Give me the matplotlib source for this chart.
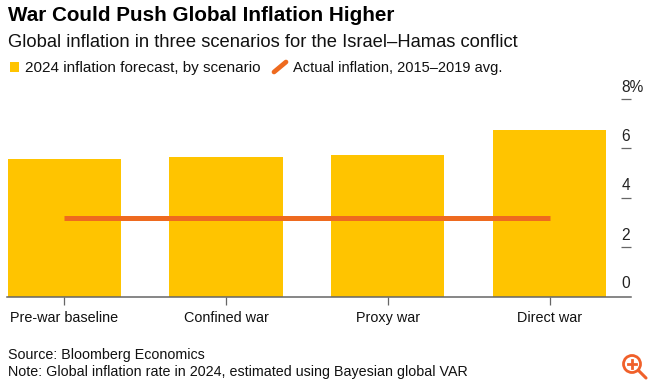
import matplotlib
matplotlib.use("Agg")
import matplotlib.pyplot as plt
from matplotlib.lines import Line2D
from matplotlib.patches import Rectangle, Circle

categories = ["Pre-war baseline", "Confined war", "Proxy war", "Direct war"]
forecast = [5.55, 5.64, 5.72, 6.73]
actual_avg = [3.2, 3.2, 3.2, 3.2]
y_ticks = [0, 2, 4, 6, 8]
y_labels = ["0", "2", "4", "6", "8%"]

title = "War Could Push Global Inflation Higher"
subtitle = "Global inflation in three scenarios for the Israel\u2013Hamas conflict"
legend_bar = "2024 inflation forecast, by scenario"
legend_line = "Actual inflation, 2015\u20132019 avg."
source = "Source: Bloomberg Economics"
note = "Note: Global inflation rate in 2024, estimated using Bayesian global VAR"

W, H = 650, 383
plt.rcParams["font.family"] = ["Liberation Sans", "DejaVu Sans"]
fig = plt.figure(figsize=(W / 100, H / 100), dpi=100)

def fx(p): return p / W
def fy(p): return 1 - p / H

x0, x1, y_top, y_base = 7.5, 630.5, 99.0, 296.5
ax = fig.add_axes([fx(x0), fy(y_base), (x1 - x0) / W, (y_base - y_top) / H])
ax.set_xlim(-0.35, 3.5)
ax.set_ylim(0, 8)
ax.patch.set_alpha(0)

xs = list(range(len(categories)))
ax.bar(xs, forecast, width=0.7, color="#FFC400", zorder=2)
ax.plot(xs, actual_avg, color="#EE6A1F", lw=3.6, solid_capstyle="butt", zorder=3)

for s in ("top", "left", "right"):
    ax.spines[s].set_visible(False)
ax.spines["bottom"].set_color("#666666")
ax.spines["bottom"].set_linewidth(1.1)
ax.spines["bottom"].set_zorder(4)

ax.set_xticks(xs)
ax.set_xticklabels(categories, fontsize=10.4, color="#111111")
ax.tick_params(axis="x", length=6, width=0.9, color="#666666", pad=4.5)

ax.yaxis.tick_right()
ax.set_yticks(y_ticks[1:])
ax.set_yticklabels([])
ax.tick_params(axis="y", direction="in", length=7.2, width=0.9, color="#666666")
for v, lab in zip(y_ticks, y_labels):
    ax.annotate(lab, xy=(1, v), xycoords=("axes fraction", "data"),
                xytext=(-6.6, 3.2 if v else 3.6), textcoords="offset points",
                ha="left", va="bottom", fontsize=11.2, color="#222222")

fig.text(fx(8), fy(21), title, fontsize=14.9, fontweight="bold", color="#000000",
         ha="left", va="baseline")
fig.text(fx(8), fy(47), subtitle, fontsize=13.2, color="#111111", ha="left", va="baseline")
fig.text(fx(25), fy(72), legend_bar, fontsize=11.0, color="#111111", ha="left", va="baseline")
fig.text(fx(293), fy(72), legend_line, fontsize=10.55, color="#111111", ha="left", va="baseline")
fig.text(fx(8), fy(359), source, fontsize=10.3, color="#111111", ha="left", va="baseline")
fig.text(fx(8), fy(376), note, fontsize=10.3, color="#111111", ha="left", va="baseline")

fig.add_artist(Rectangle((fx(10), fy(72)), 9 / W, 10 / H, transform=fig.transFigure,
                         color="#FFC400", lw=0))
fig.add_artist(Line2D([fx(274), fx(286)], [fy(72), fy(62)], transform=fig.transFigure,
                      color="#EE6A1F", lw=3.4, solid_capstyle="round"))

# magnifier badge, bottom right
orange = "#F0602A"
fig.add_artist(Line2D([fx(639), fx(646)], [fy(371), fy(378)], transform=fig.transFigure,
                      color=orange, lw=2.2, solid_capstyle="round"))
icon_ax = fig.add_axes([fx(620), fy(380), 30 / W, 30 / H])
icon_ax.set_xlim(620, 650)
icon_ax.set_ylim(380, 350)
icon_ax.axis("off")
icon_ax.add_patch(Circle((632, 364), 8.5, fill=False, ec=orange, lw=2))
icon_ax.plot([628, 636], [364, 364], color=orange, lw=2)
icon_ax.plot([632, 632], [360, 368], color=orange, lw=2)

fig.savefig("out.png", dpi=100)
